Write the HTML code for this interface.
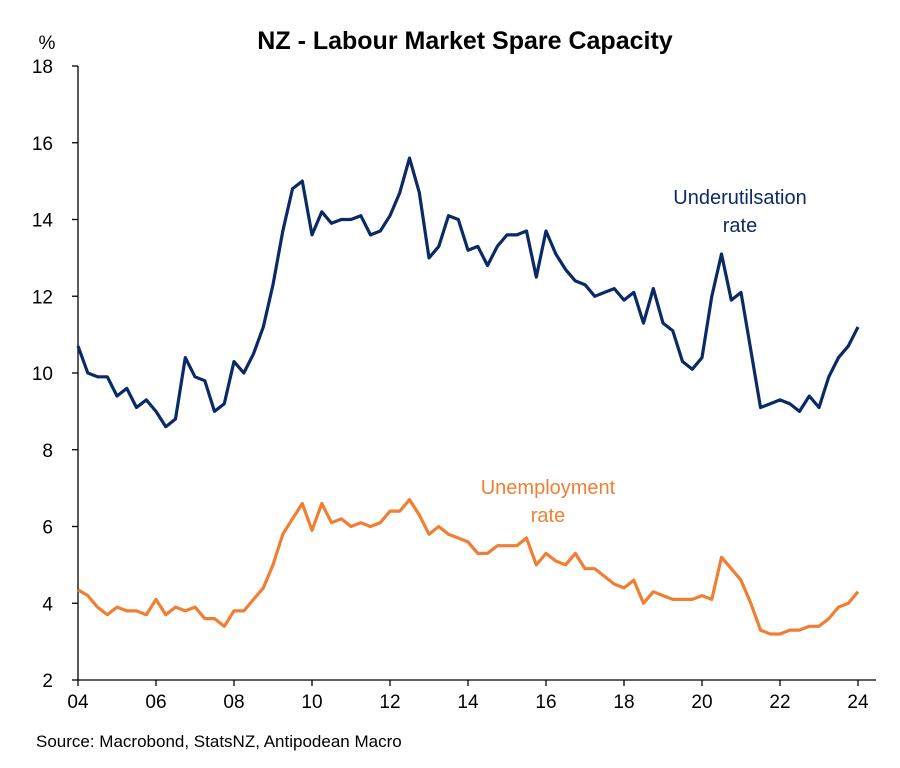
<!DOCTYPE html>
<html><head><meta charset="utf-8"><style>
body{margin:0;background:#fff;font-family:"Liberation Sans",Arial,sans-serif;}
svg text{font-family:"Liberation Sans",Arial,sans-serif;}
</style></head><body>
<svg id="chart" width="900" height="763" viewBox="0 0 900 763" xmlns="http://www.w3.org/2000/svg">
<rect width="900" height="763" fill="#fff"/>
<text x="465" y="49" text-anchor="middle" font-size="25" font-weight="bold" fill="#000">NZ - Labour Market Spare Capacity</text>
<text x="47" y="49" text-anchor="middle" font-size="19" fill="#000">%</text>
<g id="axes"></g>
<g id="series"></g>
<text x="740" y="204" text-anchor="middle" font-size="20" fill="#0d2a66">Underutilsation</text>
<text x="740" y="232" text-anchor="middle" font-size="20" fill="#0d2a66">rate</text>
<text x="548" y="494" text-anchor="middle" font-size="20" fill="#f07f33">Unemployment</text>
<text x="548" y="522" text-anchor="middle" font-size="20" fill="#f07f33">rate</text>
<text x="36" y="747" font-size="17" fill="#000">Source: Macrobond, StatsNZ, Antipodean Macro</text>
</svg>
<script>
const yTicks=[2,4,6,8,10,12,14,16,18];
const xTickYears=[2004,2006,2008,2010,2012,2014,2016,2018,2020,2022,2024];
const xTickLabels=["04","06","08","10","12","14","16","18","20","22","24"];
const startYear=2004;
const underutilisation=[10.7,10.0,9.9,9.9,9.4,9.6,9.1,9.3,9.0,8.6,8.8,10.4,9.9,9.8,9.0,9.2,10.3,10.0,10.5,11.2,12.3,13.7,14.8,15.0,13.6,14.2,13.9,14.0,14.0,14.1,13.6,13.7,14.1,14.7,15.6,14.7,13.0,13.3,14.1,14.0,13.2,13.3,12.8,13.3,13.6,13.6,13.7,12.5,13.7,13.1,12.7,12.4,12.3,12.0,12.1,12.2,11.9,12.1,11.3,12.2,11.3,11.1,10.3,10.1,10.4,12.0,13.1,11.9,12.1,10.6,9.1,9.2,9.3,9.2,9.0,9.4,9.1,9.9,10.4,10.7,11.2];
const unemployment=[4.35,4.2,3.9,3.7,3.9,3.8,3.8,3.7,4.1,3.7,3.9,3.8,3.9,3.6,3.6,3.4,3.8,3.8,4.1,4.4,5.0,5.8,6.2,6.6,5.9,6.6,6.1,6.2,6.0,6.1,6.0,6.1,6.4,6.4,6.7,6.3,5.8,6.0,5.8,5.7,5.6,5.3,5.3,5.5,5.5,5.5,5.7,5.0,5.3,5.1,5.0,5.3,4.9,4.9,4.7,4.5,4.4,4.6,4.0,4.3,4.2,4.1,4.1,4.1,4.2,4.1,5.2,4.9,4.6,4.0,3.3,3.2,3.2,3.3,3.3,3.4,3.4,3.6,3.9,4.0,4.3];
const NS="http://www.w3.org/2000/svg";
const X0=78,PX_PER_YEAR=39,Y0=680,PX_PER_UNIT=38.375;
function xScale(year){return X0+(year-startYear)*PX_PER_YEAR;}
function yScale(v){return Y0-(v-2)*PX_PER_UNIT;}
function mk(tag,attrs,parent){const e=document.createElementNS(NS,tag);for(const k in attrs)e.setAttribute(k,attrs[k]);parent.appendChild(e);return e;}
const axes=document.getElementById('axes');
let yl=mk('line',{x1:X0,y1:yScale(18),x2:X0,y2:Y0,stroke:'#000','stroke-width':1.3},axes);


let xl=mk('line',{x1:X0,y1:Y0,x2:876,y2:Y0,stroke:'#000','stroke-width':1.3},axes);


yTicks.forEach(v=>{
  const t=mk('line',{x1:X0-6,x2:X0,y1:yScale(v),y2:yScale(v),stroke:'#000','stroke-width':1.3},axes);
  
  
  const l=mk('text',{x:53,y:yScale(v)+7,'text-anchor':'end','font-size':19,fill:'#000'},axes);
  l.textContent=v;
  
  
});
xTickYears.forEach((yr,i)=>{
  const t=mk('line',{x1:xScale(yr),x2:xScale(yr),y1:Y0,y2:Y0+6,stroke:'#000','stroke-width':1.3},axes);
  
  
  const l=mk('text',{x:xScale(yr),y:Y0+28,'text-anchor':'middle','font-size':19,fill:'#000'},axes);
  l.textContent=xTickLabels[i];
  
  
});
const series=document.getElementById('series');
function pts(arr){return arr.map((v,i)=>xScale(startYear+i/4).toFixed(1)+','+yScale(v).toFixed(1)).join(' ');}
const p1=mk('polyline',{points:pts(underutilisation),fill:'none',stroke:'#0a2a66','stroke-width':3.2,'stroke-linejoin':'round'},series);


const p2=mk('polyline',{points:pts(unemployment),fill:'none',stroke:'#f07f33','stroke-width':3.2,'stroke-linejoin':'round'},series);


</script>
</body></html>
